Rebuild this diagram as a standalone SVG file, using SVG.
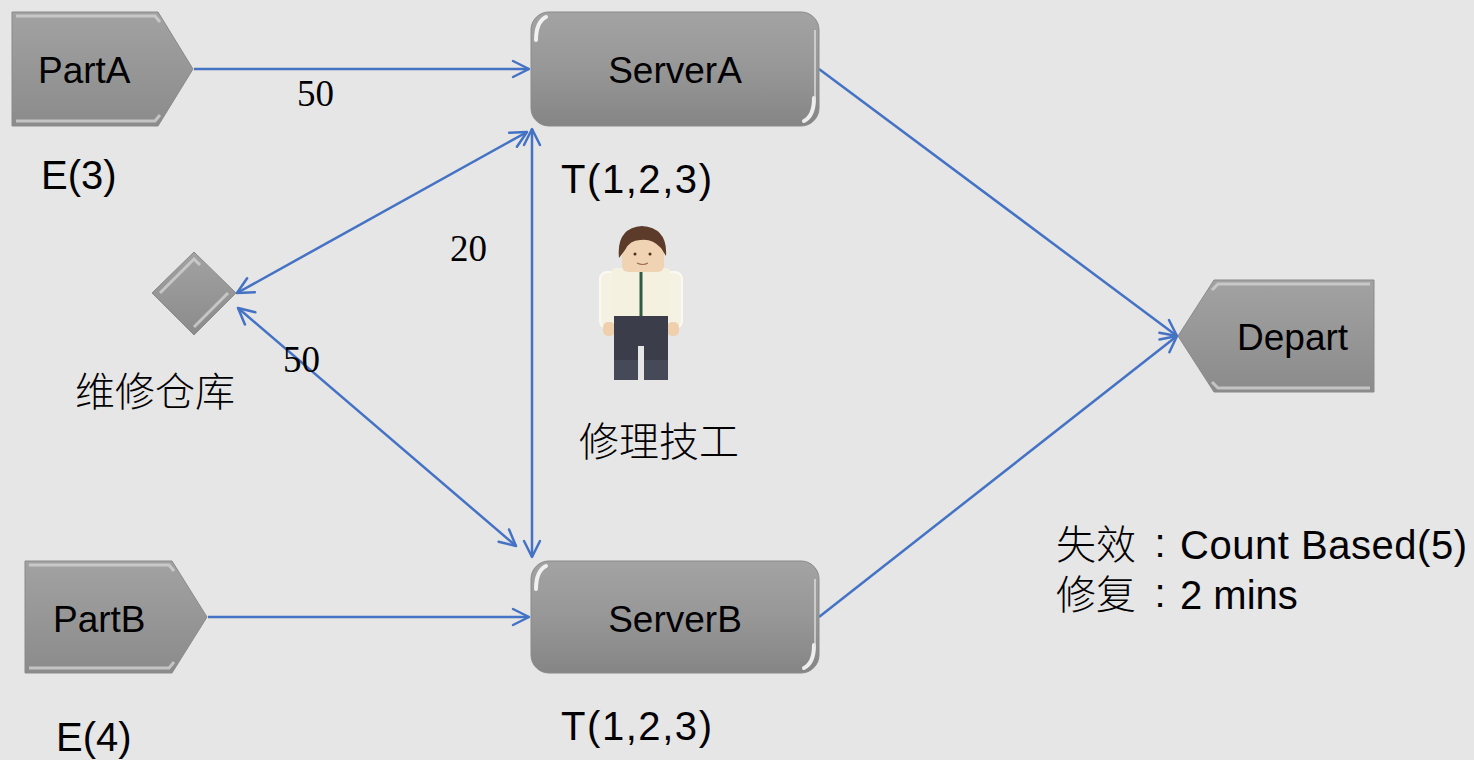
<svg xmlns="http://www.w3.org/2000/svg" width="1474" height="760" viewBox="0 0 1474 760">
  <style>
    .lbl { font-family: "Liberation Sans", Arial, sans-serif; font-size: 37px; fill: #000; }
    .note { font-family: "Liberation Sans", Arial, sans-serif; font-size: 40px; fill: #000; }
    .cjk { font-family: "Noto Sans CJK SC", sans-serif; font-size: 40px; fill: #000; font-weight: 300; }
    .num { font-family: "Liberation Serif", "Times New Roman", serif; font-size: 37px; fill: #000; }
    .conn { fill: none; stroke: #4472c4; stroke-width: 2.5; }
    .bevel-hi { fill: none; stroke: #d2d2d2; stroke-width: 3; stroke-opacity: 0.8; }
    .gloss { fill: none; stroke: #ffffff; stroke-width: 4; stroke-linecap: round; stroke-opacity: 0.85; }
  </style>
  <defs>
    <linearGradient id="gShape" x1="0" y1="0" x2="0" y2="1">
      <stop offset="0" stop-color="#a2a2a2"/>
      <stop offset="1" stop-color="#8b8b8b"/>
    </linearGradient>
    <linearGradient id="gServer" x1="0" y1="0" x2="0" y2="1">
      <stop offset="0" stop-color="#a3a3a3"/>
      <stop offset="0.5" stop-color="#979797"/>
      <stop offset="1" stop-color="#858585"/>
    </linearGradient>
    <marker id="arrow" viewBox="0 0 20 20" refX="18" refY="10" markerWidth="20" markerHeight="20" markerUnits="userSpaceOnUse" orient="auto-start-reverse">
      <path d="M2,2 L18,10 L2,18" fill="none" stroke="#4472c4" stroke-width="2.5" stroke-linecap="round" stroke-linejoin="round"/>
    </marker>
  </defs>

  <rect x="0" y="0" width="1474" height="760" fill="#e6e6e6"/>

  <!-- connectors -->
  <g id="connectors">
    <line class="conn" x1="194" y1="69" x2="529" y2="69" marker-end="url(#arrow)"/>
    <line class="conn" x1="208" y1="617" x2="529" y2="617" marker-end="url(#arrow)"/>
    <line class="conn" x1="819" y1="69" x2="1177" y2="336" marker-end="url(#arrow)"/>
    <line class="conn" x1="819" y1="617" x2="1177" y2="336" marker-end="url(#arrow)"/>
    <line class="conn" x1="237" y1="293" x2="527" y2="132" marker-start="url(#arrow)" marker-end="url(#arrow)"/>
    <line class="conn" x1="238" y1="308" x2="516" y2="546" marker-start="url(#arrow)" marker-end="url(#arrow)"/>
    <line class="conn" x1="532" y1="129" x2="532" y2="557" marker-start="url(#arrow)" marker-end="url(#arrow)"/>
  </g>

  <!-- edge labels -->
  <g id="edge-labels">
    <text class="num" x="297" y="106">50</text>
    <text class="num" x="450" y="261">20</text>
    <text class="num" x="283" y="372">50</text>
  </g>

  <!-- source PartA -->
  <g id="PartA">
    <polygon points="12,12 158,12 193,69 158,126 12,126" fill="url(#gShape)" stroke="#8a8a8a" stroke-width="1"/>
    <polyline class="bevel-hi" points="16,16 155,16 160,22"/>
    <polyline class="bevel-hi" points="16,121 155,121 160,115"/>
    <text class="lbl" x="38" y="83">PartA</text>
    <text class="note" x="41" y="189">E(3)</text>
  </g>

  <!-- source PartB -->
  <g id="PartB">
    <polygon points="25,561 172,561 207,617 172,673 25,673" fill="url(#gShape)" stroke="#8a8a8a" stroke-width="1"/>
    <polyline class="bevel-hi" points="29,565 169,565 174,571"/>
    <polyline class="bevel-hi" points="29,668 169,668 174,662"/>
    <text class="lbl" x="53" y="632">PartB</text>
    <text class="note" x="56" y="751">E(4)</text>
  </g>

  <!-- ServerA -->
  <g id="ServerA">
    <rect x="531" y="12" width="288" height="114" rx="18" fill="url(#gServer)" stroke="#8a8a8a" stroke-width="1"/>
    <path class="gloss" d="M536,40 Q536,22 546,17"/>
    <path class="gloss" d="M814,98 Q814,116 804,121"/>
    <line x1="815" y1="30" x2="815" y2="100" stroke="#e0e0e0" stroke-width="2" stroke-opacity="0.7"/>
    <text class="lbl" x="675" y="83" text-anchor="middle">ServerA</text>
    <text class="note" x="561" y="193" textLength="151" lengthAdjust="spacing">T(1,2,3)</text>
  </g>

  <!-- ServerB -->
  <g id="ServerB">
    <rect x="531" y="561" width="288" height="112" rx="18" fill="url(#gServer)" stroke="#8a8a8a" stroke-width="1"/>
    <path class="gloss" d="M536,589 Q536,571 546,566"/>
    <path class="gloss" d="M814,645 Q814,663 804,668"/>
    <line x1="815" y1="579" x2="815" y2="647" stroke="#e0e0e0" stroke-width="2" stroke-opacity="0.7"/>
    <text class="lbl" x="675" y="632" text-anchor="middle">ServerB</text>
    <text class="note" x="561" y="740" textLength="151" lengthAdjust="spacing">T(1,2,3)</text>
  </g>

  <!-- repair store -->
  <g id="RepairStore">
    <polygon points="194,252 236,293 194,335 152,293" fill="url(#gShape)" stroke="#8a8a8a" stroke-width="1"/>
    <polyline class="bevel-hi" points="160,293 194,259 200,265"/>
    <polyline class="bevel-hi" points="228,293 194,327"/>
    <text class="cjk" x="75" y="406">维修仓库</text>
  </g>

  <!-- repair technician -->
  <g id="Technician">
    <!-- sleeves -->
    <rect x="600" y="272" width="18" height="56" rx="7" fill="#f5f2e3" stroke="#faf9f4" stroke-width="2"/>
    <rect x="664" y="272" width="18" height="56" rx="7" fill="#f5f2e3" stroke="#faf9f4" stroke-width="2"/>
    <!-- hands -->
    <rect x="603" y="322" width="12" height="14" rx="5" fill="#efcfac"/>
    <rect x="667" y="322" width="12" height="14" rx="5" fill="#efcfac"/>
    <!-- shirt -->
    <rect x="612" y="268" width="58" height="52" rx="4" fill="#f4f1e1"/>
    <line x1="641" y1="272" x2="641" y2="318" stroke="#2f5a45" stroke-width="3"/>
    <!-- trousers -->
    <path d="M614,316 L668,316 L668,380 L644,380 L644,346 L638,346 L638,380 L614,380 Z" fill="#3b3e4a"/>
    <rect x="614" y="360" width="24" height="20" fill="#464958"/>
    <rect x="644" y="360" width="24" height="20" fill="#464958"/>
    <!-- head -->
    <rect x="622" y="236" width="42" height="36" rx="6" fill="#f0d3b3"/>
    <path d="M619,258 Q616,228 642,226 Q668,228 666,256 L661,248 Q652,238 640,240 Q630,240 625,250 Z" fill="#5c3b2a"/>
    <circle cx="635" cy="254" r="1.5" fill="#4a3020"/>
    <circle cx="650" cy="254" r="1.5" fill="#4a3020"/>
    <path d="M637,263 Q643,266 648,263" fill="none" stroke="#a06a50" stroke-width="1.2"/>
    <text class="cjk" x="579" y="456">修理技工</text>
  </g>

  <!-- sink Depart -->
  <g id="Depart">
    <polygon points="1178,336 1214,280 1374,280 1374,392 1214,392" fill="url(#gShape)" stroke="#8a8a8a" stroke-width="1"/>
    <polyline class="bevel-hi" points="1212,290 1218,284 1370,284"/>
    <polyline class="bevel-hi" points="1212,382 1218,388 1370,388"/>
    <text class="lbl" x="1237" y="350">Depart</text>
  </g>

  <!-- failure settings -->
  <g id="failure-note">
    <text class="cjk" x="1056" y="559">失效</text>
    <text class="note" x="1160" y="557" text-anchor="middle">:</text>
    <text class="note" x="1180" y="559" textLength="287" lengthAdjust="spacing">Count Based(5)</text>
    <text class="cjk" x="1056" y="609">修复</text>
    <text class="note" x="1160" y="607" text-anchor="middle">:</text>
    <text class="note" x="1180" y="609">2 mins</text>
  </g>
</svg>
